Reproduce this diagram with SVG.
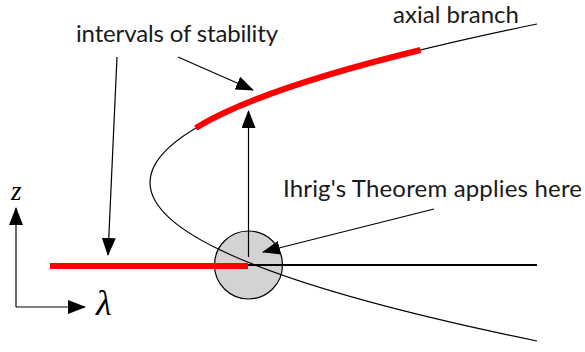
<svg xmlns="http://www.w3.org/2000/svg" width="585" height="352" viewBox="0 0 585 352">
<style>
.lbl{font-family:Lato,"Noto Sans","Liberation Sans",sans-serif;font-size:24px;fill:#1a1a1a}
.math{font-family:"Liberation Serif","DejaVu Serif",serif;font-style:italic;fill:#000}
.curve{fill:none;stroke:#000;stroke-width:1.2}
.red{fill:none;stroke:#ff0000;stroke-width:6}
.arr{fill:none;stroke:#000;stroke-width:1.2}
</style>
<defs>
<marker id="ah" viewBox="0 0 18 14" refX="17" refY="7" markerWidth="18" markerHeight="14" markerUnits="userSpaceOnUse" orient="auto">
<path d="M0,0 L18,7 L0,14 Z" fill="#000"/>
</marker>
<clipPath id="cc"><circle cx="248.5" cy="265" r="34"/></clipPath>
</defs>
<g id="branch">
<path class="curve" d="M537,24 Q-237,182.5 537,341"/>
</g>
<g id="circle">
<circle cx="248.5" cy="265" r="34" fill="#d3d3d3" stroke="#000" stroke-width="1.2"/>
<path class="curve" d="M537,24 Q-237,182.5 537,341" clip-path="url(#cc)"/>
</g>
<g id="stable">
<path class="red" d="M195.8,128 Q257.2,90 420.5,50"/>
<line class="red" x1="50" y1="266" x2="248" y2="266"/>
<line x1="248" y1="265" x2="537" y2="265" stroke="#000" stroke-width="1.8"/>
</g>
<g id="connectors">
<line class="arr" x1="248.5" y1="257" x2="248.5" y2="111" marker-end="url(#ah)"/>
<line class="arr" x1="117" y1="57" x2="108" y2="255" marker-end="url(#ah)"/>
<line class="arr" x1="178" y1="57" x2="253" y2="90" marker-end="url(#ah)"/>
<line class="arr" x1="434" y1="209" x2="263" y2="252" marker-end="url(#ah)"/>
<line class="arr" x1="16" y1="307" x2="16" y2="208" marker-end="url(#ah)"/>
<line class="arr" x1="16" y1="307" x2="85" y2="307" marker-end="url(#ah)"/>
</g>
<g id="labels">
<text class="lbl" x="76" y="42" textLength="202" lengthAdjust="spacing">intervals of stability</text>
<text class="lbl" x="393" y="23" font-size="20" textLength="126" lengthAdjust="spacing">axial branch</text>
<text class="lbl" x="283" y="197" textLength="299" lengthAdjust="spacing">Ihrig's Theorem applies here</text>
<text class="math" x="11" y="200" font-size="27">z</text>
<text class="math" x="96" y="315" font-size="36">λ</text>
</g>
</svg>
